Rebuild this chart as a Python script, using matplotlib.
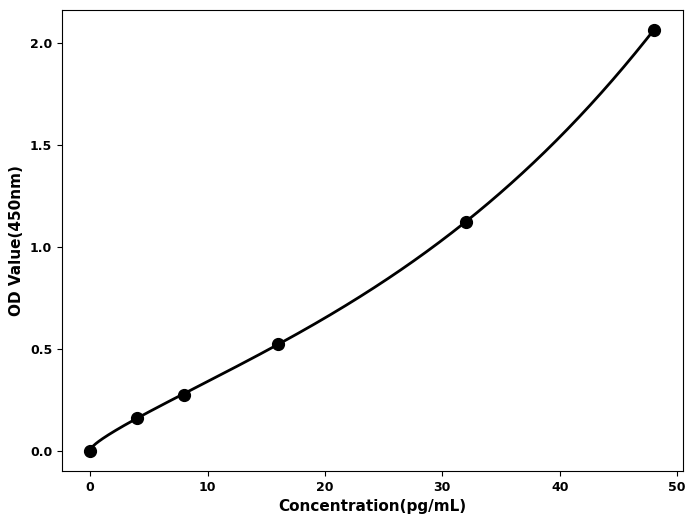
import numpy as np
import matplotlib
matplotlib.use('Agg')
import matplotlib.pyplot as plt

conc = [0, 4, 8, 16, 32, 48]
od = [0.0, 0.162, 0.275, 0.524, 1.123, 2.064]

# smooth fitted curve: y = a*sqrt(x) + b*x + c*x^2 + d*x^3
x = np.array(conc, float)
y = np.array(od, float)
basis = lambda t: np.column_stack([np.sqrt(t), t, t ** 2, t ** 3])
coef, *_ = np.linalg.lstsq(basis(x), y, rcond=None)

xs = np.linspace(0, 48, 400)
ys = basis(xs) @ coef

fig = plt.figure(figsize=(6.95, 5.26), dpi=100)
ax = fig.add_axes([0.0892, 0.1046, 0.8935, 0.8764])
ax.plot(xs, ys, color='black', lw=2)
ax.plot(conc, od, 'o', color='black', ms=8.5)
ax.set_xlim(-2.4, 50.5)
ax.set_ylim(-0.1, 2.163)
ax.set_xticks([0, 10, 20, 30, 40, 50])
ax.set_yticks([0.0, 0.5, 1.0, 1.5, 2.0])
ax.set_yticklabels(['0.0', '0.5', '1.0', '1.5', '2.0'])
for lab in ax.get_xticklabels() + ax.get_yticklabels():
    lab.set_fontweight('bold')
    lab.set_fontsize(9)
ax.set_xlabel('Concentration(pg/mL)', fontsize=11, fontweight='bold')
ax.set_ylabel('OD Value(450nm)', fontsize=11, fontweight='bold')
fig.savefig('out.png', dpi=100)
